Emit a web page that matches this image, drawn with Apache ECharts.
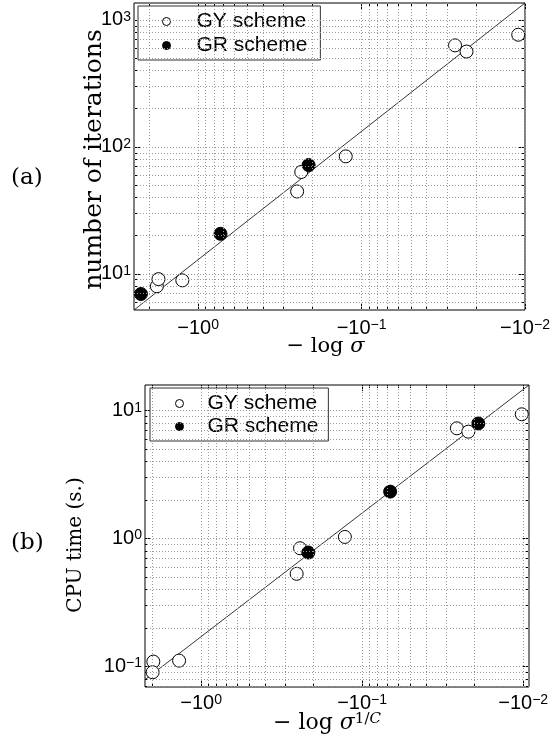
<!DOCTYPE html>
<html><head><meta charset="utf-8">
<script src="https://cdn.jsdelivr.net/npm/echarts@6/dist/echarts.min.js"></script>
<style>html,body{margin:0;padding:0;background:#fff}#c{width:553px;height:748px}</style>
</head><body><div id="c"></div>
<script>
// ---- Data (x stored as magnitude of the negative x value, axis shown as -10^k) ----
const seriesNames = ['GY scheme', 'GR scheme'];
// Panel (a): number of iterations
const gyA_x = [1.79, 1.75, 1.25, 0.248, 0.234, 0.125, 0.0268, 0.0228, 0.011];
const gyA_y = [8.0, 9.1, 8.9, 44.6, 63.5, 84.3, 631, 564, 765];
const grA_x = [2.24, 0.73, 0.211];
const grA_y = [6.95, 20.7, 72];
const refA_x = [2.47, 0.01];
const refA_y = [5.2, 1360];
// Panel (b): CPU time (s.)
const gyB_x = [1.98, 2.0, 1.37, 0.255, 0.243, 0.128, 0.0258, 0.0219, 0.0102];
const gyB_y = [0.109, 0.090, 0.111, 0.53, 0.84, 1.03, 7.29, 6.86, 9.38];
const grB_x = [0.216, 0.067, 0.019];
const grB_y = [0.778, 2.33, 7.95];
const refB_x = [2.23, 0.0092];
const refB_y = [0.0787, 15.9];
// Ticks
const xMajor = [1, 0.1, 0.01];
const yMajorA = [10, 100, 1000];
const yMajorB = [0.1, 1, 10];

const zip = (a, b) => a.map((v, i) => [v, b[i]]);
function minorVals(lo, hi) {
  const out = [];
  for (let e = Math.floor(Math.log10(lo)); e <= Math.ceil(Math.log10(hi)); e++) {
    for (let m = 2; m <= 9; m++) {
      const v = m * Math.pow(10, e);
      if (v > lo * 1.0001 && v < hi * 0.9999) out.push(+v.toPrecision(6));
    }
  }
  return out;
}
function inRange(vals, lo, hi) { return vals.filter(v => v >= lo * 0.9999 && v <= hi * 1.0001); }

const SANS = 'Liberation Sans';
const SERIF = 'DejaVu Serif';
const supRich = {
  b: { fontSize: 20, fontFamily: SANS, color: '#000', lineHeight: 20, padding: [4, 0, 0, 0], verticalAlign: 'bottom' },
  s: { fontSize: 14, fontFamily: SANS, color: '#000', lineHeight: 14, verticalAlign: 'top' }
};
function expOf(v) { return Math.round(Math.log10(v)); }
function fmtExp(v) { const e = expOf(v); return (e < 0 ? '−' : '') + Math.abs(e); }
const xFmt = v => '{b|−10}{s|' + fmtExp(v) + '}';
const yFmt = v => '{b|10}{s|' + fmtExp(v) + '}';

function axesFor(dim, gi, min, max, inverse, majors, minors, main) {
  const sides = dim === 'x' ? ['bottom', 'top'] : ['left', 'right'];
  const out = [];
  sides.forEach(pos => {
    [[majors, 6], [minors, 3]].forEach(([vals, len]) => {
      out.push({
        type: 'log', logBase: 10, gridIndex: gi, min: min, max: max, inverse: inverse, position: pos,
        axisLine: { show: false, onZero: false },
        splitLine: { show: false },
        axisTick: { show: true, inside: true, length: len, customValues: vals, lineStyle: { color: '#000', width: 1 } },
        axisLabel: { show: false }
      });
    });
  });
  Object.assign(out[0], main);
  return out;
}

const lim = {
  a: { x: [0.01, 2.47], y: [5.2, 1360] },
  b: { x: [0.0092, 2.23], y: [0.069, 15.9] }
};
const serifTok = (size, extra) => Object.assign({ fontFamily: SERIF, fontSize: size, color: '#000' }, extra || {});
const labelBase = { show: true, rich: supRich, fontSize: 20, fontFamily: SANS, color: '#000' };

const xAxes = [].concat(
  axesFor('x', 0, lim.a.x[0], lim.a.x[1], true, inRange(xMajor, ...lim.a.x), minorVals(...lim.a.x), {
    axisLabel: Object.assign({}, labelBase, { customValues: inRange(xMajor, ...lim.a.x), formatter: xFmt, margin: 8 }),
    name: '{n|− log }{i|σ}', nameLocation: 'middle', nameGap: 26, nameMoveOverlap: false,
    nameTextStyle: { padding: [0, 8, 0, 0], rich: { n: serifTok(21), i: serifTok(21, { fontStyle: 'italic' }) } }
  }),
  axesFor('x', 1, lim.b.x[0], lim.b.x[1], true, inRange(xMajor, ...lim.b.x), minorVals(...lim.b.x), {
    axisLabel: Object.assign({}, labelBase, { customValues: inRange(xMajor, ...lim.b.x), formatter: xFmt, margin: 6 }),
    name: '{n|− log }{i|σ}{s|1/}{si|C}', nameLocation: 'middle', nameGap: 25, nameMoveOverlap: false,
    nameTextStyle: { padding: [0, 20, 0, 0], rich: {
      n: serifTok(22, { verticalAlign: 'bottom', lineHeight: 22, padding: [5, 0, 0, 0] }),
      i: serifTok(22, { fontStyle: 'italic', verticalAlign: 'bottom', lineHeight: 22, padding: [5, 0, 0, 0] }),
      s: serifTok(15, { verticalAlign: 'top', lineHeight: 15 }),
      si: serifTok(15, { fontStyle: 'italic', verticalAlign: 'top', lineHeight: 15 })
    } }
  })
);
const yAxes = [].concat(
  axesFor('y', 0, lim.a.y[0], lim.a.y[1], false, inRange(yMajorA, ...lim.a.y), minorVals(...lim.a.y), {
    axisLabel: Object.assign({}, labelBase, { customValues: inRange(yMajorA, ...lim.a.y), formatter: yFmt, margin: 3 }),
    name: 'number of iterations', nameLocation: 'middle', nameGap: 27, nameRotate: 90, nameMoveOverlap: false,
    nameTextStyle: { fontFamily: SERIF, fontSize: 25, color: '#000', padding: [0, 6, 0, 0] }
  }),
  axesFor('y', 1, lim.b.y[0], lim.b.y[1], false, inRange(yMajorB, ...lim.b.y), minorVals(...lim.b.y), {
    axisLabel: Object.assign({}, labelBase, { customValues: inRange(yMajorB, ...lim.b.y), formatter: yFmt, margin: 3 }),
    name: 'CPU time (s.)', nameLocation: 'middle', nameGap: 59, nameRotate: 90, nameMoveOverlap: false,
    nameTextStyle: { fontFamily: SERIF, fontSize: 20, color: '#000', padding: [0, 18, 0, 0] }
  })
);

function gridLines(L, yMajor) {
  const xs = inRange(xMajor, ...L.x).concat(minorVals(...L.x));
  const ys = inRange(yMajor, ...L.y).concat(minorVals(...L.y));
  return {
    silent: true, symbol: ['none', 'none'], animation: false,
    label: { show: false },
    lineStyle: { color: '#9a9a9a', type: [1, 2], width: 1 },
    emphasis: { disabled: true },
    data: xs.map(v => ({ xAxis: v })).concat(ys.map(v => ({ yAxis: v })))
  };
}

const openStyle = { color: '#fff', borderColor: '#000', borderWidth: 1, opacity: 1 };
const fillStyle = { color: '#000', borderColor: '#000', borderWidth: 1, opacity: 1 };
function panelSeries(gi, refX, refY, gyX, gyY, grX, grY, L, yMajor) {
  const xi = gi * 4, yi = gi * 4;
  return [
    { type: 'line', name: 'ref', xAxisIndex: xi, yAxisIndex: yi, data: zip(refX, refY), symbol: 'none',
      lineStyle: { color: '#000', width: 0.8 }, silent: true, markLine: gridLines(L, yMajor), z: 2 },
    { type: 'scatter', name: seriesNames[0], xAxisIndex: xi, yAxisIndex: yi, data: zip(gyX, gyY),
      symbol: 'circle', symbolSize: 13, itemStyle: openStyle, z: 3 },
    { type: 'scatter', name: seriesNames[1], xAxisIndex: xi, yAxisIndex: yi, data: zip(grX, grY),
      symbol: 'circle', symbolSize: 13, itemStyle: fillStyle, z: 4 }
  ];
}

function legendFor(left, top, pad, textPad, gap) {
  return {
    orient: 'vertical', left: left, top: top, padding: pad, itemGap: gap,
    itemWidth: 8, itemHeight: 8, icon: 'circle',
    backgroundColor: '#fff', borderColor: '#333', borderWidth: 1, borderRadius: 0,
    selectedMode: false,
    textStyle: { fontFamily: SANS, fontSize: 21, color: '#000', lineHeight: 20, padding: [0, 0, 0, textPad] },
    data: [
      { name: seriesNames[0], itemStyle: openStyle },
      { name: seriesNames[1], itemStyle: fillStyle }
    ]
  };
}

const chart = echarts.init(document.getElementById('c'), null, { renderer: 'canvas' });
chart.setOption({
  animation: false,
  backgroundColor: '#fff',
  grid: [
    { left: 134, top: 3, width: 391, height: 307, show: true, borderColor: '#000', borderWidth: 1, backgroundColor: 'transparent' },
    { left: 145, top: 385, width: 384, height: 302, show: true, borderColor: '#000', borderWidth: 1, backgroundColor: 'transparent' }
  ],
  xAxis: xAxes,
  yAxis: yAxes,
  legend: [
    legendFor(138, 6, [5, 13, 4, 24], 21, 3),
    legendFor(150, 388, [5, 10, 4, 25], 19, 2)
  ],
  graphic: [
    { type: 'text', left: 11, top: 167, style: { text: '(a)', fontFamily: SERIF, fontSize: 23, fill: '#000' } },
    { type: 'text', left: 11, top: 532, style: { text: '(b)', fontFamily: SERIF, fontSize: 23, fill: '#000' } }
  ],
  series: [].concat(
    panelSeries(0, refA_x, refA_y, gyA_x, gyA_y, grA_x, grA_y, lim.a, yMajorA),
    panelSeries(1, refB_x, refB_y, gyB_x, gyB_y, grB_x, grB_y, lim.b, yMajorB)
  )
});
</script></body></html>
